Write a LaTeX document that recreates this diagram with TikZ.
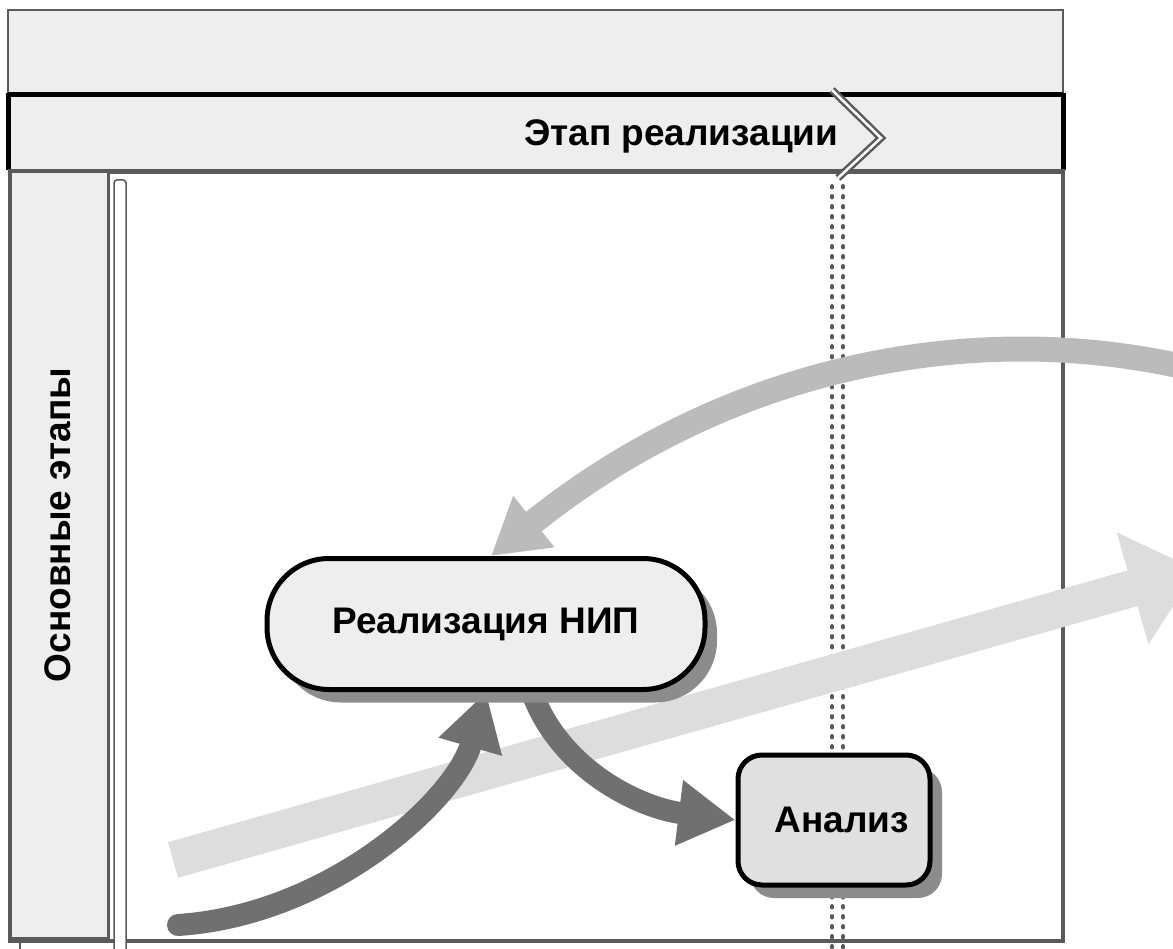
\documentclass[tikz,border=0pt]{standalone}
\usepackage{fontspec}
\setmainfont{Liberation Sans}
\usetikzlibrary{arrows.meta,shadows,backgrounds}

\definecolor{panelgray}{RGB}{238,238,238}
\definecolor{boxgray}{RGB}{224,224,224}
\definecolor{framegray}{RGB}{90,90,90}
\definecolor{shadowgray}{RGB}{140,140,140}
\definecolor{darkarr}{RGB}{112,112,112}
\definecolor{arcarr}{RGB}{187,187,187}
\definecolor{lightarr}{RGB}{221,221,221}

\begin{document}
\begin{tikzpicture}[x=1pt,y=-1pt,
  lbl/.style={font=\bfseries\fontsize{37}{42}\selectfont},
  stepnode/.style={lbl, draw=black, line width=5pt, inner sep=0pt,
    drop shadow={shadow xshift=12pt,shadow yshift=-13pt,fill=shadowgray,opacity=1}},
  darkflow/.style={draw=darkarr, line width=22pt, -{Triangle[length=57pt,width=62pt]}},
  arcflow/.style={draw=arcarr, line width=25pt, -{Triangle[length=55pt,width=62pt]}},
  lightflow/.style={draw=lightarr, line width=37pt, -{Triangle[length=67pt,width=112pt]}}]
\useasboundingbox (0,0) rectangle (1173,949);
\clip (0,0) rectangle (1173,949);

% steps
\node[stepnode, fill=panelgray, rounded corners=62pt, minimum width=438pt, minimum height=131pt]
  (rnip) at (486,624) {Реализация НИП};
\node[stepnode, fill=boxgray, rounded corners=24pt, minimum width=192pt, minimum height=130pt,
  text width=150pt, align=right] (analiz) at (834,820) {Анализ};

% headers
\node[lbl, anchor=east] (stage) at (842,136) {Этап реализации};
\node[lbl, rotate=90] (lane) at (58,525) {Основные этапы};

\begin{scope}[on background layer]
\draw[framegray, line width=2pt, fill=panelgray] (8,10) rectangle (1063,93);
\fill[panelgray] (8,95) rectangle (1063,170);
\draw[line width=5pt] (8,95) -- (1063,95);
\draw[line width=5pt] (8,93) -- (8,170);
\draw[line width=5pt] (1063,93) -- (1063,170);
\draw[framegray, line width=4pt] (8,171) -- (1065,171);

\draw[framegray, line width=3.5pt] (10,172) rectangle (1063,941);
\draw[framegray, line width=3pt, fill=panelgray] (10,172) rectangle (108,938);
\draw[framegray, line width=1.5pt, fill=white, rounded corners=3pt] (114,949) -- (114,180) -- (126,180) -- (126,949);
\draw[framegray, line width=1.5pt] (20,941) -- (20,949);

% stage border
\draw[framegray, line width=2.5pt, double=white, double distance=2.5pt] (832,90) -- (881,138) -- (838,178);
\foreach \x in {832,843}
  \draw[framegray, line width=4pt, dash pattern=on 1.5pt off 8.5pt, line cap=round] (\x,186) -- (\x,949);

% flows
\coordinate (lstart) at (173,860);
\coordinate (lend) at (1197,570);
\draw[lightflow] (lstart) -- (lend);

\coordinate (arcstart) at (1180,366);
\draw[arcflow] (arcstart) .. controls (960,318) and (720,372) .. ([xshift=5pt]rnip.north);

\coordinate (dstart) at (178,925);
\draw[darkflow, line cap=round] (dstart) .. controls (330,915) and (455,800) .. (rnip.south);
\draw[darkflow] (rnip.-56) .. controls (560,770) and (640,808) .. (analiz.west);
\end{scope}
\end{tikzpicture}
\end{document}
